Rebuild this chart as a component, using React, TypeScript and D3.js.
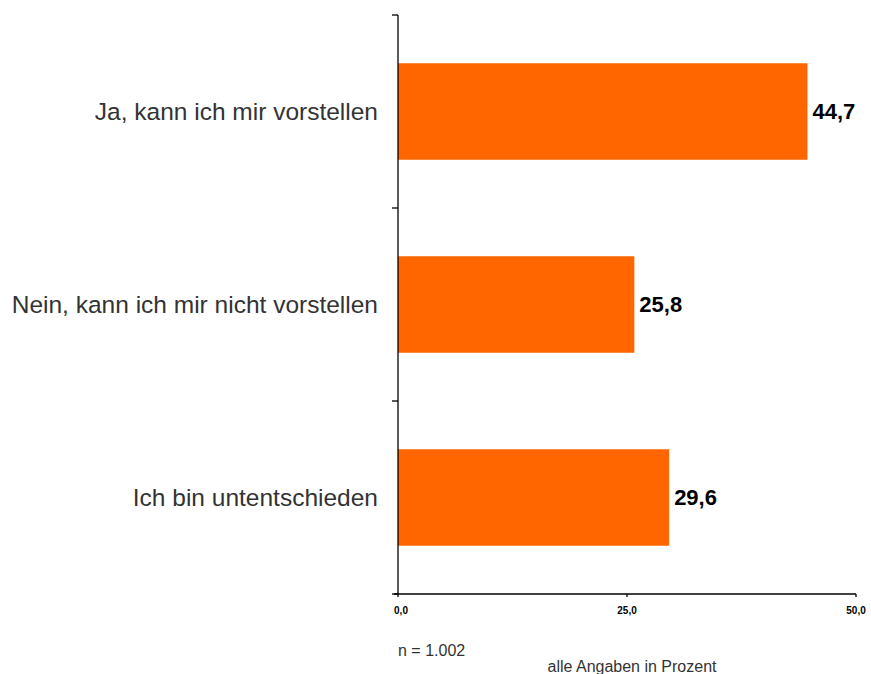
import React from "react";
import * as d3 from "d3";

const categories = [
  "Ja, kann ich mir vorstellen",
  "Nein, kann ich mir nicht vorstellen",
  "Ich bin untentschieden",
];
const values = [44.7, 25.8, 29.6];
const xTicks = [0, 25, 50];
const noteN = "n = 1.002";
const noteUnit = "alle Angaben in Prozent";

const W = 871;
const H = 674;
const left = 398;
const right = 856;
const top = 15;
const bottom = 594;

export default function App() {
  const x = d3.scaleLinear().domain([0, 50]).range([left, right]);
  const y = d3
    .scaleBand<string>()
    .domain(categories)
    .range([top, bottom])
    .paddingInner(0.5)
    .paddingOuter(0.25);
  const bandEdges = [top, ...categories.map((c, i) => top + ((bottom - top) / categories.length) * (i + 1))];
  const fmt = (v: number) => d3.format(".1f")(v).replace(".", ",");
  const font = "Arial, 'Liberation Sans', Helvetica, sans-serif";

  return (
    <svg
      width={W}
      height={H}
      style={{ position: "absolute", left: 0, top: 0, background: "#fff" }}
      fontFamily={font}
    >
      {categories.map((c, i) => {
        const yy = y(c)!;
        const bw = y.bandwidth();
        return (
          <g key={c}>
            <rect x={x(0)} y={yy} width={x(values[i]) - x(0)} height={bw} fill="#ff6600" />
            <text
              x={x(values[i]) + 5}
              y={yy + bw / 2}
              dy="0.36em"
              fontSize={22}
              fontWeight="bold"
              fill="#000"
            >
              {fmt(values[i])}
            </text>
            <text
              x={left - 20}
              y={yy + bw / 2}
              dy="0.36em"
              fontSize={24.5}
              fill="#333"
              textAnchor="end"
            >
              {c}
            </text>
          </g>
        );
      })}
      {/* y axis */}
      <line x1={left} x2={left} y1={top} y2={bottom} stroke="#000" strokeWidth={1.3} />
      {bandEdges.map((e, i) => (
        <line key={i} x1={left - 6} x2={left} y1={e} y2={e} stroke="#000" strokeWidth={1.3} />
      ))}
      {/* x axis */}
      <line x1={left - 4} x2={right} y1={bottom} y2={bottom} stroke="#000" strokeWidth={1.3} />
      {xTicks.map((t) => (
        <g key={t}>
          <line x1={x(t)} x2={x(t)} y1={bottom} y2={bottom + 3} stroke="#000" strokeWidth={1.3} />
          <text
            x={x(t) + (t === 0 ? 3 : 0)}
            y={bottom + 20}
            fontSize={10}
            fontWeight="bold"
            textAnchor="middle"
            fill="#000"
          >
            {fmt(t)}
          </text>
        </g>
      ))}
      <text x={398} y={656} fontSize={16} fill="#333">
        {noteN}
      </text>
      <text x={632} y={672} fontSize={16} fill="#333" textAnchor="middle">
        {noteUnit}
      </text>
    </svg>
  );
}
